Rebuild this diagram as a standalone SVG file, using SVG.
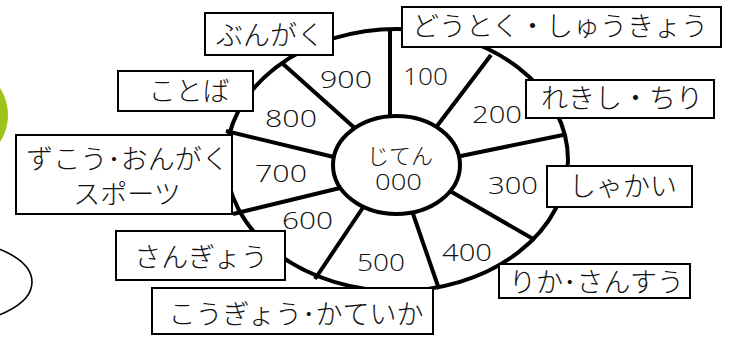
<svg xmlns="http://www.w3.org/2000/svg" width="731" height="342" viewBox="0 0 731 342">
<style>
.box{fill:#fff;stroke:#000;stroke-width:2}
.jp{font-family:"Noto Sans CJK JP","Noto Sans",sans-serif;font-size:27px;font-weight:300;fill:#111;text-anchor:middle}
.num{font-family:"Open Sans","Liberation Sans",Arial,sans-serif;font-size:24px;font-weight:300;fill:#111;text-anchor:middle}
.spoke{stroke:#000;stroke-width:4;fill:none;stroke-linecap:butt}
</style>
<rect width="731" height="342" fill="#fff"/>
<circle id="green-deco" cx="-41.5" cy="115" r="49.5" fill="#9dc41c"/>
<ellipse id="left-ellipse" cx="-55" cy="282" rx="87" ry="42" fill="none" stroke="#000" stroke-width="1.6"/>
<g id="wheel">
<ellipse cx="397" cy="160" rx="171" ry="131" fill="#fff" stroke="#000" stroke-width="4"/>
</g>
<g id="connectors">
<line class="spoke" x1="390" y1="30" x2="390" y2="122"/>
<line class="spoke" x1="282" y1="63" x2="358" y2="131"/>
<line class="spoke" x1="226" y1="131" x2="338" y2="158"/>
<line class="spoke" x1="233" y1="214" x2="340" y2="188"/>
<line class="spoke" x1="315" y1="279" x2="364" y2="206"/>
<line class="spoke" x1="439" y1="289" x2="411" y2="208"/>
<line class="spoke" x1="535" y1="240" x2="450" y2="191"/>
<line class="spoke" x1="563" y1="135" x2="456" y2="157"/>
<line class="spoke" x1="491" y1="55" x2="434" y2="130"/>
</g>
<g id="sector-numbers">
<text class="num" x="346" y="88" textLength="52" lengthAdjust="spacingAndGlyphs">900</text>
<text class="num" x="425.5" y="85" textLength="45" lengthAdjust="spacingAndGlyphs">100</text>
<text class="num" x="497" y="123" textLength="50" lengthAdjust="spacingAndGlyphs">200</text>
<text class="num" x="513" y="194" textLength="50" lengthAdjust="spacingAndGlyphs">300</text>
<text class="num" x="467" y="261" textLength="50" lengthAdjust="spacingAndGlyphs">400</text>
<text class="num" x="381" y="271" textLength="48" lengthAdjust="spacingAndGlyphs">500</text>
<text class="num" x="307.5" y="229" textLength="51" lengthAdjust="spacingAndGlyphs">600</text>
<text class="num" x="281" y="182" textLength="52" lengthAdjust="spacingAndGlyphs">700</text>
<text class="num" x="291" y="127" textLength="52" lengthAdjust="spacingAndGlyphs">800</text>
</g>
<g id="center">
<ellipse cx="396.5" cy="165" rx="63.5" ry="49" fill="#fff" stroke="#000" stroke-width="4"/>
<text class="jp" x="400" y="164" style="font-size:22px">じてん</text>
<text class="num" x="398.5" y="190" style="font-size:22px" textLength="47" lengthAdjust="spacingAndGlyphs">000</text>
</g>
<g id="n900">
<rect class="box" x="205" y="13" width="128" height="42"/>
<text class="jp" x="270" y="45">ぶんがく</text>
</g>
<g id="n800">
<rect class="box" x="118" y="71" width="135" height="40"/>
<text class="jp" x="189" y="101">ことば</text>
</g>
<g id="n700">
<rect class="box" x="16" y="135" width="216" height="79"/>
<text class="jp"><tspan x="127.5" y="169">ずこう･おんがく</tspan><tspan x="127" y="204">スポーツ</tspan></text>
</g>
<g id="n600">
<rect class="box" x="116" y="231" width="169" height="49"/>
<text class="jp" x="201" y="267">さんぎょう</text>
</g>
<g id="n500">
<rect class="box" x="152" y="288" width="281" height="46"/>
<text class="jp" x="296" y="324">こうぎょう･かていか</text>
</g>
<g id="n400">
<rect class="box" x="499" y="264" width="191" height="34"/>
<text class="jp" x="596.5" y="292">りか･さんすう</text>
</g>
<g id="n300">
<rect class="box" x="547" y="166" width="145" height="41"/>
<text class="jp" x="623" y="196">しゃかい</text>
</g>
<g id="n200">
<rect class="box" x="526" y="80" width="188" height="38"/>
<text class="jp" x="622" y="108">れきし・ちり</text>
</g>
<g id="n100">
<rect class="box" x="402" y="7" width="319" height="40"/>
<text class="jp" x="560" y="36">どうとく・しゅうきょう</text>
</g>
</svg>
